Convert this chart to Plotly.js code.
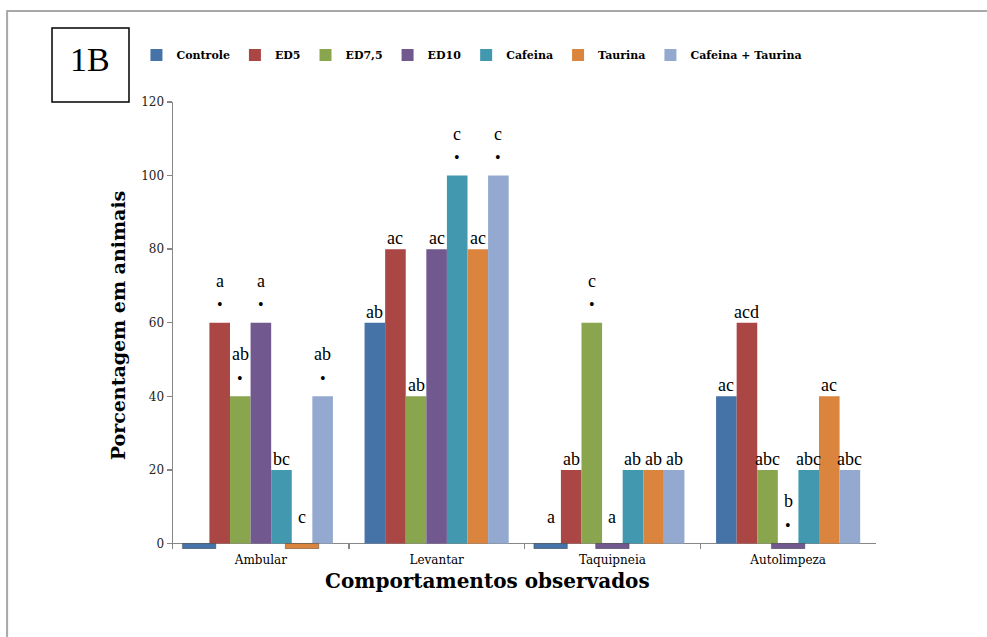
<!DOCTYPE html>
<html>
<head>
<meta charset="utf-8">
<script src="https://cdn.plot.ly/plotly-3.0.1.min.js"></script>
<style>
  html, body { margin: 0; padding: 0; background: #ffffff; }
  #chart { width: 987px; height: 637px; }
</style>
</head>
<body>
<div id="chart"></div>
<script>
// Behaviours observed, percentage of animals per treatment group
const categories = ['Ambular', 'Levantar', 'Taquipneia', 'Autolimpeza'];
const seriesNames = ['Controle', 'ED5', 'ED7,5', 'ED10', 'Cafeina', 'Taurina', 'Cafeina + Taurina'];

const controle = [0, 60, 0, 40];
const ed5      = [60, 80, 20, 60];
const ed75     = [40, 40, 60, 20];
const ed10     = [60, 80, 0, 0];
const cafeina  = [20, 100, 20, 20];
const taurina  = [0, 80, 20, 40];
const cafTau   = [40, 100, 20, 20];

// Significance letters above each bar
const controleLetters = ['', 'ab', 'a', 'ac'];
const ed5Letters      = ['a', 'ac', 'ab', 'acd'];
const ed75Letters     = ['ab', 'ab', 'c', 'abc'];
const ed10Letters     = ['a', 'ac', 'a', 'b'];
const cafeinaLetters  = ['bc', 'c', 'ab', 'abc'];
const taurinaLetters  = ['c', 'ac', 'ab', 'ac'];
const cafTauLetters   = ['ab', 'c', 'ab', 'abc'];

// Asterisk: difference versus control
const controleStar = [false, false, false, false];
const ed5Star      = [true, false, false, false];
const ed75Star     = [true, false, true, false];
const ed10Star     = [true, false, false, true];
const cafeinaStar  = [false, true, false, false];
const taurinaStar  = [false, false, false, false];
const cafTauStar   = [true, true, false, false];

const seriesValues  = [controle, ed5, ed75, ed10, cafeina, taurina, cafTau];
const seriesLetters = [controleLetters, ed5Letters, ed75Letters, ed10Letters, cafeinaLetters, taurinaLetters, cafTauLetters];
const seriesStars   = [controleStar, ed5Star, ed75Star, ed10Star, cafeinaStar, taurinaStar, cafTauStar];
const seriesColors  = ['#4572A7', '#AA4643', '#89A54E', '#71588F', '#4198AF', '#DB843D', '#93A9CF'];

const BARGAP = 0.18;
const STUB_DEPTH = 1.4;   // zero values are shown as a flat tab under the axis
const STUB_WIDTH = 0.19;
const SERIF = 'DejaVu Serif';
const AXIS_GRAY = '#878787';

const traces = [];
seriesNames.forEach((name, j) => {
  traces.push({
    type: 'bar',
    name: name,
    x: categories,
    y: seriesValues[j],
    offsetgroup: 'g' + j,
    legendgroup: 'g' + j,
    marker: { color: seriesColors[j], line: { width: 0 } },
    hoverinfo: 'x+y+name'
  });
});
seriesNames.forEach((name, j) => {
  traces.push({
    type: 'bar',
    name: name,
    x: categories,
    y: seriesValues[j].map(v => (v === 0 ? -STUB_DEPTH : null)),
    width: STUB_WIDTH,
    offsetgroup: 'g' + j,
    legendgroup: 'g' + j,
    showlegend: false,
    hoverinfo: 'skip',
    marker: { color: seriesColors[j], line: { width: 1, color: 'rgba(60,60,60,0.45)' } }
  });
});

// Letter and asterisk labels, placed over each bar slot in category units
const nSeries = seriesNames.length;
const slotWidth = (1 - BARGAP) / nSeries;
const annotations = [];
seriesValues.forEach((vals, j) => {
  vals.forEach((v, i) => {
    const xPos = i + (j - (nSeries - 1) / 2) * slotWidth;
    const letter = seriesLetters[j][i];
    const star = seriesStars[j][i];
    if (letter) {
      annotations.push({
        x: xPos, y: v, xref: 'x', yref: 'y',
        text: letter, showarrow: false,
        yanchor: 'middle',
        yshift: star ? 42 : (v === 0 ? 26 : 11),
        font: { family: 'Liberation Serif', size: 18, color: '#000000' }
      });
    }
    if (star) {
      annotations.push({
        x: xPos, y: v, xref: 'x', yref: 'y',
        text: '•', showarrow: false,
        yanchor: 'middle', yshift: 18,
        font: { family: 'Liberation Serif', size: 16, color: '#000000' }
      });
    }
  });
});

// Panel tag and horizontal axis title
annotations.push({
  xref: 'paper', yref: 'paper', x: -0.118, y: 1.094,
  text: '1B', showarrow: false, xanchor: 'center', yanchor: 'middle',
  font: { family: 'Liberation Serif', size: 34, color: '#000000' }
});
annotations.push({
  xref: 'paper', yref: 'paper', x: 0.4467, y: -0.072,
  text: 'Comportamentos observados', showarrow: false, xanchor: 'center', yanchor: 'middle',
  font: { family: SERIF, size: 20, weight: 'bold', color: '#000000' }
});

const shapes = [
  { type: 'rect', xref: 'paper', yref: 'paper', x0: -0.236, x1: 1.2, y0: -0.25, y1: 1.2036,
    line: { color: '#A8A8A8', width: 2 }, fillcolor: 'rgba(0,0,0,0)', layer: 'below' },
  { type: 'rect', xref: 'paper', yref: 'paper', x0: -0.1721, x1: -0.0626, y0: 1.0, y1: 1.1655,
    line: { color: '#000000', width: 1.5 }, fillcolor: 'rgba(0,0,0,0)' }
];

const layout = {
  width: 987, height: 637, autosize: false,
  margin: { l: 173, r: 111, t: 102, b: 88, pad: 0 },
  paper_bgcolor: '#ffffff', plot_bgcolor: '#ffffff',
  barmode: 'group', bargap: BARGAP, bargroupgap: 0,
  showlegend: true,
  legend: {
    orientation: 'h', x: -0.052, xanchor: 'left', y: 1.105, yanchor: 'middle',
    font: { family: SERIF, size: 11, weight: 'bold', color: '#000000' },
    bgcolor: 'rgba(0,0,0,0)', traceorder: 'normal', itemwidth: 30
  },
  xaxis: {
    type: 'category', tickson: 'boundaries', ticks: 'inside', ticklen: 6,
    tickcolor: AXIS_GRAY, tickwidth: 1.5, showline: false, showgrid: false, zeroline: false,
    ticklabelstandoff: 2,
    tickfont: { family: SERIF, size: 12, color: '#000000' }, fixedrange: true
  },
  yaxis: {
    range: [-1.5, 120], tickvals: [0, 20, 40, 60, 80, 100, 120],
    ticks: 'outside', ticklen: 5, tickcolor: AXIS_GRAY, tickwidth: 1.5,
    showline: true, linecolor: AXIS_GRAY, linewidth: 1.5,
    zeroline: true, zerolinecolor: AXIS_GRAY, zerolinewidth: 1.5,
    showgrid: false,
    tickfont: { family: SERIF, size: 12, color: '#222222' },
    title: { text: 'Porcentagem em animais', standoff: 10,
             font: { family: SERIF, size: 19, weight: 'bold', color: '#000000' } },
    fixedrange: true
  },
  annotations: annotations,
  shapes: shapes
};

Plotly.newPlot('chart', traces, layout, { displayModeBar: false, staticPlot: true });
</script>
</body>
</html>
